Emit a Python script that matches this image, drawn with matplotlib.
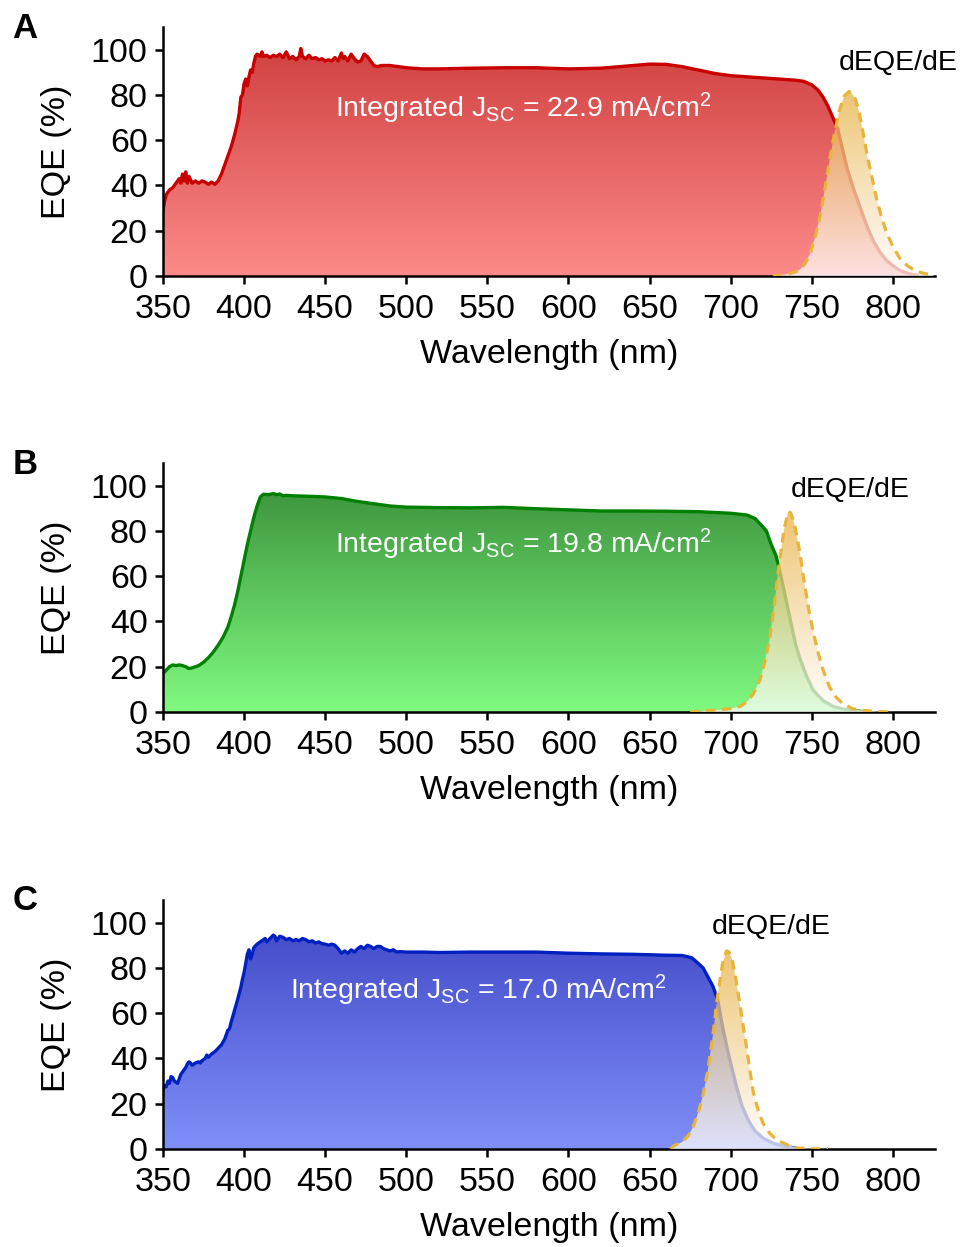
import numpy as np
import matplotlib
matplotlib.use("Agg")
import matplotlib.pyplot as plt
from matplotlib.patches import Polygon

plt.rcParams['font.family'] = ['Liberation Sans', 'DejaVu Sans']
plt.rcParams['mathtext.fontset'] = 'custom'
plt.rcParams['mathtext.rm'] = 'Liberation Sans'
plt.rcParams['mathtext.it'] = 'Liberation Sans:italic'

# ---- panel A (red) ----
wl_a = [350, 351, 352, 354, 356, 358, 360, 361, 362, 363, 364, 365, 366, 368, 370, 372, 374, 376, 378, 380,
        382, 384, 386, 388, 390, 392, 394, 396, 397, 398, 399, 400, 401, 402, 403, 404, 405, 406, 407, 408,
        410, 411, 412, 414, 416, 418, 420, 422, 424, 426, 428, 430, 432, 434, 435, 436, 438, 440, 442, 444,
        446, 448, 450, 452, 454, 456, 458, 460, 461, 462, 464, 466, 468, 470, 472, 474, 476, 478, 480, 482,
        485, 490, 495, 500, 510, 520, 540, 560, 580, 600, 620, 640, 650, 660, 670, 680, 690, 700, 710, 720,
        730, 740, 745, 750, 754, 757, 760, 763, 766, 769, 772, 776, 780, 784, 788, 792, 796, 800, 805, 810,
        815]
eqe_a = [29, 33, 36, 38, 39, 41, 43, 41, 45, 42, 46, 41, 44, 41, 42, 41, 42, 41.5, 40.5, 41.5,
         40.5, 42, 45, 49, 53, 57, 62, 68, 72, 79, 80, 85, 87, 84, 88, 91, 90, 94, 97, 98,
         97, 99, 97, 97.5, 96.5, 97.5, 97, 98, 96.5, 99, 96, 97, 95.5, 97, 100.5, 97, 96, 97.5, 96, 96.5,
         95.5, 96, 95, 95.5, 95, 96.5, 95, 98.5, 96, 97, 95, 98, 96, 94.5, 95, 98, 97, 95, 93, 92.5,
         93, 93, 92.5, 92, 91.5, 91.5, 91.8, 92, 92, 91.5, 91.8, 93, 93.6, 93.5, 92.5, 91, 89.5, 88.5, 88, 87.5,
         87, 86.5, 86, 84.5, 82, 79, 75, 70, 65, 56, 47, 38, 30, 22, 15.5, 10.5, 7, 4.5, 2.2, 1,
         0.3]
de_wl_a = [726, 730, 735, 740, 743, 746, 749, 752, 755, 758, 761, 764, 767, 770, 773, 775, 777, 779, 781, 784,
           787, 790, 793, 796, 800, 805, 810, 815, 820, 825]
de_a = [0, 0.3, 0.8, 1.8, 3, 5.5, 10, 17, 26, 38, 51, 63, 73, 79.5, 81.5, 80.5, 78, 73, 66, 54,
        44, 34, 26, 19.5, 13, 7, 4, 2, 1, 0.5]

# ---- panel B (green) ----
wl_b = [350, 352, 354, 356, 358, 360, 362, 364, 366, 368, 370, 372, 375, 378, 381, 384, 387, 390, 392, 394,
        396, 398, 400, 402, 404, 406, 408, 410, 412, 415, 418, 420, 422, 424, 426, 430, 440, 450, 460, 470,
        480, 490, 500, 520, 540, 560, 580, 600, 620, 640, 660, 680, 700, 710, 715, 719, 722, 725, 728, 731,
        734, 737, 740, 743, 747, 751, 757, 763, 770, 780]
eqe_b = [17, 18.5, 20, 20.8, 20.5, 20.8, 20.5, 20, 19.2, 19.5, 20, 20.5, 22, 24, 26.5, 29.5, 33, 37.5, 42, 47,
         53, 60, 67, 74, 80, 86, 91, 95, 96.2, 96, 96.5, 96, 96.3, 95.5, 95.7, 95.5, 95.3, 95, 94.3, 93,
         92, 91, 90.5, 90.3, 90.2, 90.4, 89.8, 89.3, 88.8, 88.8, 88.7, 88.5, 87.8, 87, 85.5, 82.5, 80, 74, 69, 60,
         50, 40, 30, 23, 15.5, 9.5, 5, 2.5, 1.2, 0.3]
de_wl_b = [675, 680, 690, 700, 706, 710, 714, 718, 721, 724, 727, 730, 733, 735.5, 737, 739, 741, 743, 745, 748,
           751, 754, 757, 761, 765, 769, 775, 780, 790, 800]
de_b = [0, 0.3, 0.8, 1.5, 2.5, 4.5, 8, 14, 22, 32, 48, 66, 81, 88.5, 88, 84, 77, 69, 59, 46,
        35, 26, 18.5, 11, 6.5, 3.8, 1.5, 0.8, 0.2, 0]

# ---- panel C (blue) ----
wl_c = [350, 351, 352, 353, 354, 355, 356, 357, 358, 359, 360, 361, 362, 363, 364, 365, 366, 367, 368, 369,
        370, 372, 373, 374, 376, 377, 378, 380, 382, 384, 386, 388, 390, 391, 392, 394, 396, 398, 399, 400,
        401, 402, 403, 404, 405, 406, 408, 410, 412, 413, 414, 416, 418, 419, 420, 422, 424, 426, 428, 430,
        432, 434, 436, 438, 440, 442, 444, 446, 448, 450, 452, 454, 456, 458, 460, 462, 464, 466, 468, 470,
        472, 474, 476, 478, 480, 482, 484, 486, 488, 490, 492, 494, 496, 500, 510, 520, 540, 560, 580, 600,
        620, 640, 660, 670, 676, 680, 683, 686, 689, 692, 695, 698, 701, 704, 707, 711, 715, 720, 726, 733,
        740]
eqe_c = [26, 28, 27.5, 30, 29, 32, 31.5, 30, 29.5, 29, 31, 33, 34, 35, 36, 37.5, 38.5, 38, 37, 37.5,
         38, 38.5, 38, 39, 40, 41.5, 40.5, 42, 43, 44.5, 46, 48.5, 52.5, 53, 56, 61, 66, 71.5, 75, 78,
         82, 86, 88, 84, 86, 89, 90.5, 91.5, 92.5, 93, 91.5, 93, 94.5, 94, 92, 94, 93.5, 92.5, 93, 92,
         92.5, 92, 93, 92.5, 91.5, 92, 91, 91.5, 90.7, 90.5, 90, 90.5, 90, 88.5, 86.5, 87.5, 86.5, 88, 87, 88.5,
         89.5, 88.5, 90, 89.5, 88.5, 89.5, 89.5, 88.5, 88, 87.5, 88, 87, 87.2, 87, 87, 86.8, 87, 87, 87, 86.5,
         86.2, 86, 85.6, 85.5, 84.5, 82, 80, 76, 72, 66, 54, 44, 35, 26.5, 19, 12.5, 8, 4.8, 2.6, 1.2,
         0.3]
de_wl_c = [663, 665, 670, 674, 677, 680, 683, 686, 689, 692, 695, 697.5, 699, 701, 703, 705.7, 708, 710,
           712, 714, 717, 720, 724, 728.5, 735, 741, 750, 760]
de_c = [0, 1.5, 3, 6, 10, 16, 24, 35, 50, 68, 82, 87.5, 87, 83.5, 76, 64, 53, 44,
        34, 25, 17, 11.4, 7, 4, 1.8, 0.5, 0.1, 0]

panel_labels = ['A', 'B', 'C']
jsc_values = ['22.9', '19.8', '17.0']
line_colors = ['#c80000', '#008000', '#0020c0']
fill_tops = [(0.82, 0.26, 0.26), (0.24, 0.58, 0.24), (0.26, 0.29, 0.78)]
fill_bottoms = [(0.99, 0.54, 0.54), (0.50, 0.98, 0.50), (0.50, 0.56, 0.98)]
jsc_pos = [(572, 74), (572, 74), (544, 70)]
de_label_pos = [(803, 94), (774, 98), (725, 98)]

DEQE_COLOR = '#e8b43a'
DEQE_TOP = (0.91, 0.70, 0.27)


def gradient_fill(ax, x, y, top, bottom, ymax, alpha=1.0, zorder=1):
    x = np.asarray(x, float)
    y = np.asarray(y, float)
    verts = np.vstack([[x[0], 0], np.column_stack([x, y]), [x[-1], 0]])
    clip = Polygon(verts, closed=True, facecolor='none', edgecolor='none')
    ax.add_patch(clip)
    t = np.linspace(0, 1, 256)[:, None]
    top = np.array(top)
    bottom = np.array(bottom)
    rgb = bottom[None, :] + t * (top - bottom)[None, :]
    img = np.dstack([np.repeat(rgb[:, 0:1], 2, axis=1),
                     np.repeat(rgb[:, 1:2], 2, axis=1),
                     np.repeat(rgb[:, 2:3], 2, axis=1),
                     np.full((256, 2), alpha)])
    im = ax.imshow(img, extent=[x.min(), x.max(), 0, ymax], origin='lower',
                   aspect='auto', interpolation='bilinear', zorder=zorder)
    im.set_clip_path(clip)


fig = plt.figure(figsize=(9.64, 12.47), dpi=100)

data = [(wl_a, eqe_a, de_wl_a, de_a), (wl_b, eqe_b, de_wl_b, de_b), (wl_c, eqe_c, de_wl_c, de_c)]
bottoms_px = [276, 712, 1149]

for i, (wl, eqe, dwl, de) in enumerate(data):
    W, H = 964, 1247
    ax = fig.add_axes([163 / W, 1 - bottoms_px[i] / H, 772 / W, 249 / H])

    gradient_fill(ax, wl, eqe, fill_tops[i], fill_bottoms[i], 100, zorder=1)
    ax.plot(wl, eqe, color=line_colors[i], lw=2.4, zorder=2, solid_joinstyle='round')
    gradient_fill(ax, dwl, de, DEQE_TOP, (1.0, 1.0, 1.0), max(de), alpha=0.75, zorder=3)
    ax.plot(dwl, de, color=DEQE_COLOR, lw=2.3, ls=(0, (3, 2)), zorder=4)

    ax.text(jsc_pos[i][0], jsc_pos[i][1],
            r'Integrated J$_{\mathrm{SC}}$ = ' + jsc_values[i] + r' mA/cm$^{2}$',
            color='white', fontsize=20.5, ha='center', va='center', zorder=5)
    ax.text(de_label_pos[i][0], de_label_pos[i][1], 'dEQE/dE',
            fontsize=20.5, ha='center', va='center', zorder=5)

    ax.set_xlim(350, 826)
    ax.set_ylim(0, 110)
    ax.set_xticks(np.arange(350, 801, 50))
    ax.set_yticks(np.arange(0, 101, 20))
    ax.spines['top'].set_visible(False)
    ax.spines['right'].set_visible(False)
    for s in ['left', 'bottom']:
        ax.spines[s].set_linewidth(1.8)
    ax.tick_params(direction='out', length=6, width=1.8, labelsize=24.5)
    ax.tick_params(axis='x', pad=7)
    ax.tick_params(axis='y', pad=5)
    ax.set_xlabel('Wavelength (nm)', fontsize=24.5)
    ax.set_ylabel('EQE (%)', fontsize=24.5)
    ax.xaxis.set_label_coords(0.5, -0.255)
    ax.yaxis.set_label_coords(-0.118, 0.5)

    fig.text(25 / W, 1 - (bottoms_px[i] - 248) / H, panel_labels[i],
             fontsize=25, fontweight='bold', ha='center', va='center')

fig.savefig('out.png', dpi=100)
